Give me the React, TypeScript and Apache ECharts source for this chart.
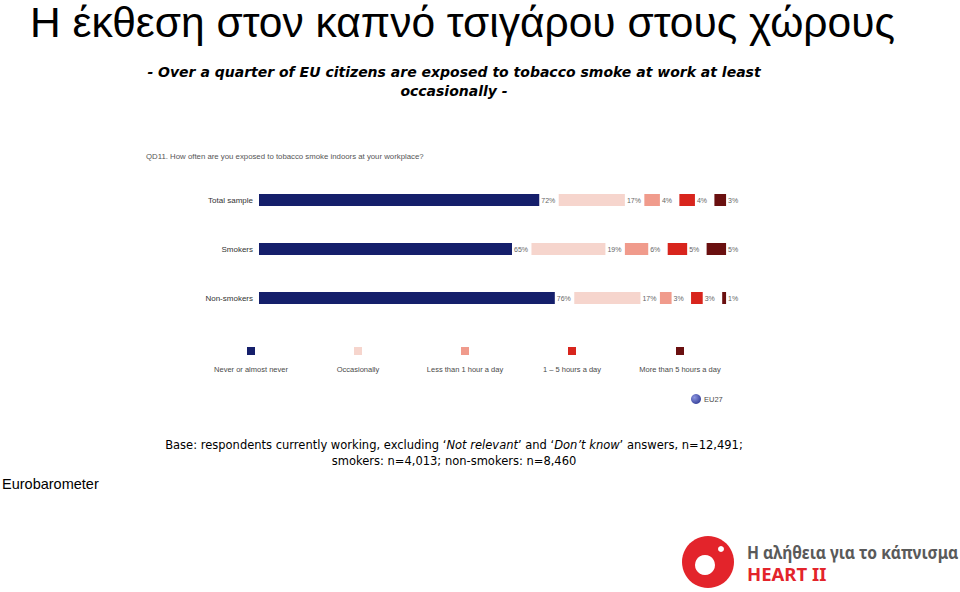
import React, { useEffect, useRef } from "react";
import * as echarts from "echarts";

const categories = ["Total sample", "Smokers", "Non-smokers"];
const seriesNames = [
  "Never or almost never",
  "Occasionally",
  "Less than 1 hour a day",
  "1 – 5 hours a day",
  "More than 5 hours a day",
];
const never = [72, 65, 76];
const occasionally = [17, 19, 17];
const lessThan1 = [4, 6, 3];
const oneToFive = [4, 5, 3];
const moreThan5 = [3, 5, 1];
const values = [never, occasionally, lessThan1, oneToFive, moreThan5];
const colors = ["#151f6b", "#f6d5cd", "#f09b8c", "#d8251d", "#6a1010"];
const GAP = 5;

export default function App() {
  const ref = useRef<HTMLDivElement>(null);
  useEffect(() => {
    if (!ref.current) return;
    const chart = echarts.init(ref.current, undefined, { renderer: "svg" });
    const series: any[] = [];
    values.forEach((vals, i) => {
      series.push({
        name: seriesNames[i],
        type: "bar",
        stack: "s",
        barWidth: 12,
        data: vals,
        itemStyle: { color: colors[i] },
        label: {
          show: true,
          position: "right",
          distance: 2,
          formatter: "{c}%",
          fontSize: 7,
          color: "#666",
          fontFamily: "Liberation Sans",
        },
      });
      if (i < values.length - 1) {
        series.push({
          name: "gap" + i,
          type: "bar",
          stack: "s",
          data: vals.map(() => GAP),
          itemStyle: { color: "transparent" },
          silent: true,
        });
      }
    });

    const legendX = [251, 358, 465, 572, 680];
    const legendGraphics: any[] = [];
    seriesNames.forEach((n, i) => {
      legendGraphics.push({
        type: "rect",
        shape: { x: legendX[i] - 4, y: 347, width: 8, height: 8 },
        style: { fill: colors[i] },
      });
      legendGraphics.push({
        type: "text",
        x: legendX[i],
        y: 369,
        style: {
          text: n,
          fill: "#4a4a4a",
          fontSize: 7.5,
          fontFamily: "Liberation Sans",
          align: "center",
          verticalAlign: "middle",
        },
      });
    });

    chart.setOption({
      animation: false,
      backgroundColor: "#ffffff",
      grid: { left: 259, top: 175.5, height: 147, width: 506 },
      xAxis: {
        type: "value",
        min: 0,
        max: 130,
        show: false,
      },
      yAxis: {
        type: "category",
        data: categories,
        inverse: true,
        axisLine: { show: false },
        axisTick: { show: false },
        axisLabel: {
          fontSize: 8,
          color: "#333",
          margin: 6,
          fontFamily: "Liberation Sans",
        },
      },
      series,
      graphic: [
        {
          type: "text",
          x: 30,
          y: 22,
          style: {
            text: "Η έκθεση στον καπνό τσιγάρου στους χώρους",
            fontSize: 42.5,
            fill: "#000",
            fontFamily: "Liberation Sans",
            verticalAlign: "middle",
          },
        },
        {
          type: "text",
          x: 454,
          y: 72,
          style: {
            text: "- Over a quarter of EU citizens are exposed to tobacco smoke at work at least",
            fontSize: 14,
            fontStyle: "italic",
            fontWeight: "bold",
            fill: "#000",
            fontFamily: "DejaVu Sans",
            align: "center",
            verticalAlign: "middle",
          },
        },
        {
          type: "text",
          x: 454,
          y: 91,
          style: {
            text: "occasionally -",
            fontSize: 14,
            fontStyle: "italic",
            fontWeight: "bold",
            fill: "#000",
            fontFamily: "DejaVu Sans",
            align: "center",
            verticalAlign: "middle",
          },
        },
        {
          type: "text",
          x: 146,
          y: 156,
          style: {
            text: "QD11. How often are you exposed to tobacco smoke indoors at your workplace?",
            fontSize: 7.8,
            fill: "#555",
            fontFamily: "Liberation Sans",
            verticalAlign: "middle",
          },
        },
        ...legendGraphics,
        {
          type: "circle",
          shape: { cx: 696, cy: 399, r: 5 },
          style: {
            fill: new echarts.graphic.RadialGradient(0.35, 0.35, 0.8, [
              { offset: 0, color: "#8c95e0" },
              { offset: 1, color: "#2a3590" },
            ]),
          },
        },
        {
          type: "text",
          x: 704,
          y: 399,
          style: {
            text: "EU27",
            fontSize: 7.5,
            fill: "#4a4a4a",
            fontFamily: "Liberation Sans",
            verticalAlign: "middle",
          },
        },
        {
          type: "text",
          x: 454,
          y: 445,
          style: {
            rich: {
              n: { fontSize: 11.5, fontFamily: "DejaVu Sans", fill: "#000" },
              i: { fontSize: 11.5, fontFamily: "DejaVu Sans", fontStyle: "italic", fill: "#000" },
            },
            text: "{n|Base: respondents currently working, excluding ‘}{i|Not relevant}{n|’ and ‘}{i|Don’t know}{n|’ answers, n=12,491;}",
            align: "center",
            verticalAlign: "middle",
          },
        },
        {
          type: "text",
          x: 454,
          y: 461,
          style: {
            text: "smokers: n=4,013; non-smokers: n=8,460",
            fontSize: 11.5,
            fontFamily: "DejaVu Sans",
            fill: "#000",
            align: "center",
            verticalAlign: "middle",
          },
        },
        {
          type: "text",
          x: 2,
          y: 484,
          style: {
            text: "Eurobarometer",
            fontSize: 14.5,
            fontFamily: "Liberation Sans",
            fill: "#000",
            verticalAlign: "middle",
          },
        },
        {
          type: "circle",
          shape: { cx: 708, cy: 562, r: 26 },
          style: { fill: "#e3242b" },
        },
        {
          type: "circle",
          shape: { cx: 705, cy: 565, r: 10 },
          style: { fill: "#ffffff" },
        },
        {
          type: "circle",
          shape: { cx: 721, cy: 549, r: 3 },
          style: { fill: "#ffffff" },
        },
        {
          type: "text",
          x: 747,
          y: 552,
          scaleX: 0.87,
          style: {
            text: "Η αλήθεια για το κάπνισμα",
            fontSize: 18,
            fontWeight: "bold",
            fontFamily: "Noto Sans",
            fill: "#5a5a5a",
            verticalAlign: "middle",
          },
        },
        {
          type: "text",
          x: 747,
          y: 573,
          style: {
            text: "HEART II",
            fontSize: 18.5,
            fontWeight: "bold",
            fontFamily: "Noto Sans",
            fill: "#e3242b",
            verticalAlign: "middle",
          },
        },
      ],
    });
    return () => chart.dispose();
  }, []);
  return (
    <div
      ref={ref}
      style={{ position: "fixed", left: 0, top: 0, width: 960, height: 592 }}
    />
  );
}
